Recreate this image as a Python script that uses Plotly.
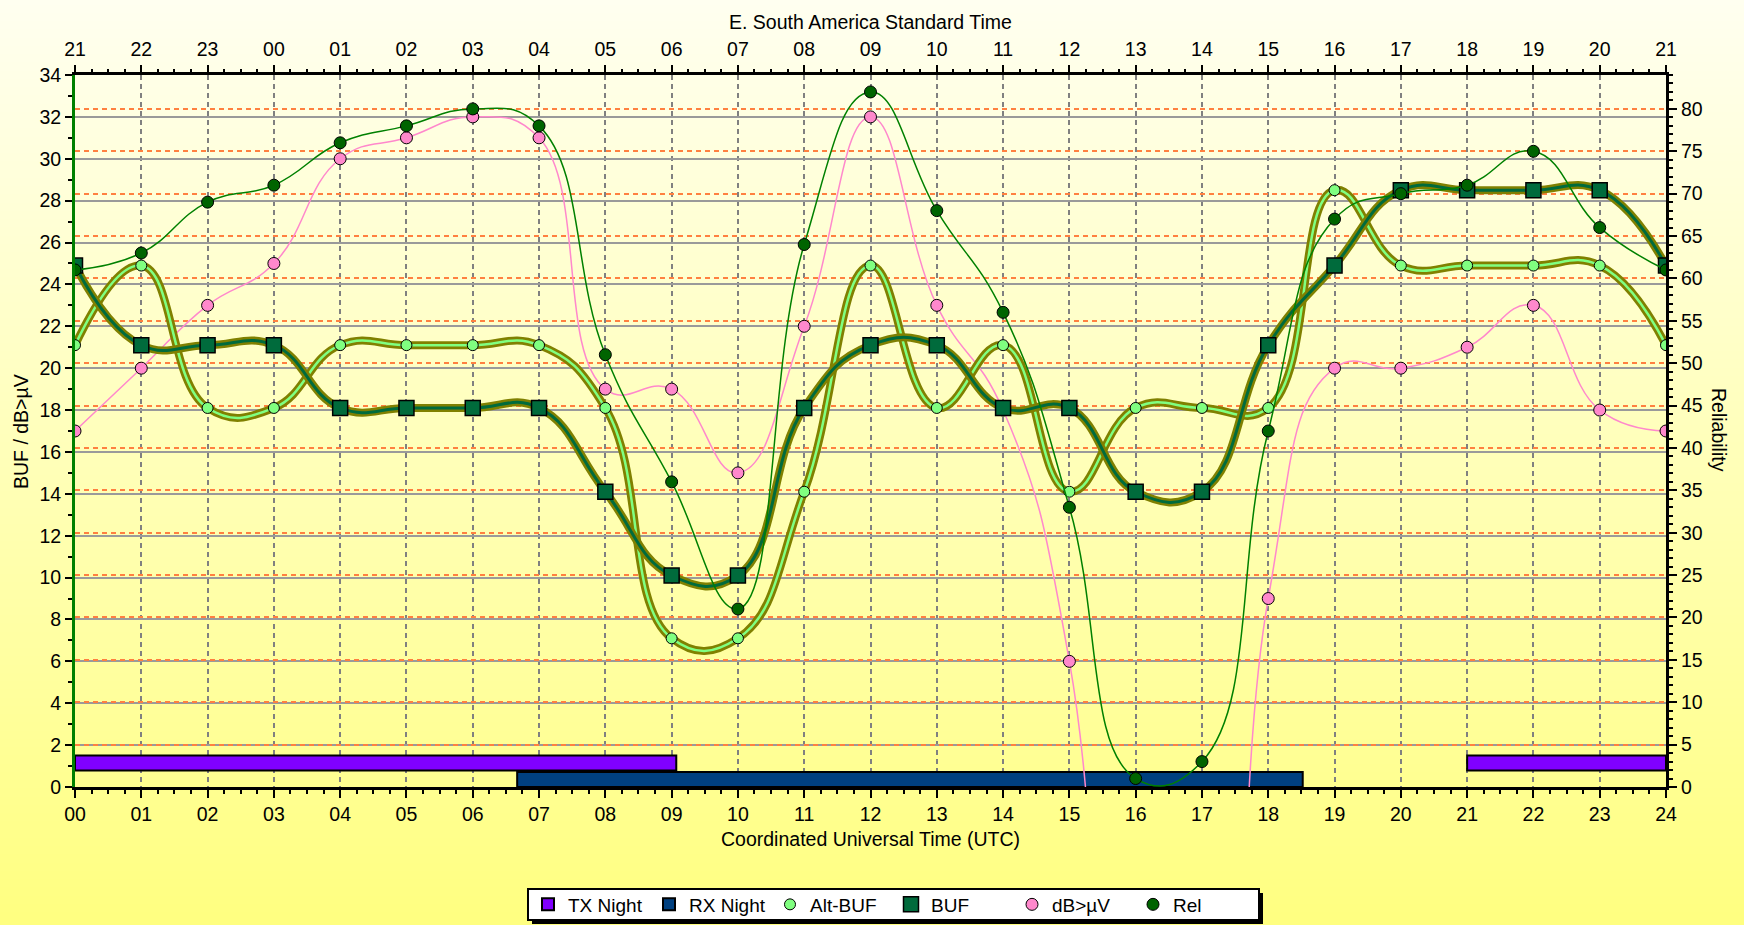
import base64
import struct
import zlib
import plotly.graph_objects as go

# ---------------- data ----------------
hours = list(range(25))
utc_labels = ["00", "01", "02", "03", "04", "05", "06", "07", "08", "09", "10", "11", "12",
              "13", "14", "15", "16", "17", "18", "19", "20", "21", "22", "23", "24"]
local_labels = ["21", "22", "23", "00", "01", "02", "03", "04", "05", "06", "07", "08", "09",
                "10", "11", "12", "13", "14", "15", "16", "17", "18", "19", "20", "21"]

buf = [24.9, 21.1, 21.1, 21.1, 18.1, 18.1, 18.1, 18.1, 14.1, 10.1, 10.1, 18.1, 21.1,
       21.1, 18.1, 18.1, 14.1, 14.1, 21.1, 24.9, 28.5, 28.5, 28.5, 28.5, 24.9]
alt_buf = [21.1, 24.9, 18.1, 18.1, 21.1, 21.1, 21.1, 21.1, 18.1, 7.1, 7.1, 14.1, 24.9,
           18.1, 21.1, 14.1, 18.1, 18.1, 18.1, 28.5, 24.9, 24.9, 24.9, 24.9, 21.1]
db_uv = [17, 20, 23, 25, 30, 31, 32, 31, 19, 19, 15, 22, 32,
         23, 18, 6, -28, -35, 9, 20, 20, 21, 23, 18, 17]
rel = [61, 63, 69, 71, 76, 78, 80, 78, 51, 36, 21, 64, 82,
       68, 56, 33, 1, 3, 42, 67, 70, 71, 75, 66, 61]

tx_night_start = [0.0, 21.0]
tx_night_end = [9.07, 24.0]
rx_night_start = [6.67]
rx_night_end = [18.52]

# ---------------- geometry / style ----------------
W, H = 1744, 925
ML, MR, MT, MB = 75, 78, 75, 138
PW, PH = W - ML - MR, H - MT - MB
FONT = "Liberation Sans, Arial, sans-serif"
FS = 19.5

OLIVE = "#808000"
BUF_GREEN = "#006B3C"
ALT_GREEN = "#80FF80"
PINK = "#FF88CC"
REL_LINE = "#008000"
REL_MARK = "#006400"


def px_x(px):
    return (px - ML) / PW


def px_y(py):
    return (H - MB - py) / PH


def gradient_png(h, top, bottom):
    rows = bytearray()
    for i in range(h):
        t = i / (h - 1)
        c = bytes(round(top[k] + (bottom[k] - top[k]) * t) for k in range(3))
        rows += b"\x00" + c * 2

    def chunk(tag, data):
        return (struct.pack(">I", len(data)) + tag + data +
                struct.pack(">I", zlib.crc32(tag + data) & 0xFFFFFFFF))

    png = (b"\x89PNG\r\n\x1a\n" +
           chunk(b"IHDR", struct.pack(">IIBBBBB", 2, h, 8, 2, 0, 0, 0)) +
           chunk(b"IDAT", zlib.compress(bytes(rows))) +
           chunk(b"IEND", b""))
    return "data:image/png;base64," + base64.b64encode(png).decode()


fig = go.Figure()

# night bars (horizontal gantt style on left axis)
fig.add_trace(go.Bar(
    orientation="h", name="TX Night",
    y=[1.15] * len(tx_night_start), base=tx_night_start,
    x=[e - s for s, e in zip(tx_night_start, tx_night_end)],
    width=0.72, marker=dict(color="#8000FF", line=dict(color="black", width=2)),
    legendrank=1, hoverinfo="skip"))
fig.add_trace(go.Bar(
    orientation="h", name="RX Night",
    y=[0.36] * len(rx_night_start), base=rx_night_start,
    x=[e - s for s, e in zip(rx_night_start, rx_night_end)],
    width=0.72, marker=dict(color="#004080", line=dict(color="black", width=2)),
    legendrank=2, hoverinfo="skip"))

spl = dict(shape="spline", smoothing=1.3)

# lines
fig.add_trace(go.Scatter(x=hours, y=db_uv, mode="lines", showlegend=False,
                         line=dict(color=PINK, width=1.5, **spl), hoverinfo="skip"))
fig.add_trace(go.Scatter(x=hours, y=alt_buf, mode="lines", showlegend=False,
                         line=dict(color=OLIVE, width=8, **spl), hoverinfo="skip"))
fig.add_trace(go.Scatter(x=hours, y=alt_buf, mode="lines", showlegend=False,
                         line=dict(color=ALT_GREEN, width=2.5, **spl), hoverinfo="skip"))
fig.add_trace(go.Scatter(x=hours, y=buf, mode="lines", showlegend=False,
                         line=dict(color=OLIVE, width=8, **spl), hoverinfo="skip"))
fig.add_trace(go.Scatter(x=hours, y=buf, mode="lines", showlegend=False,
                         line=dict(color=BUF_GREEN, width=3, **spl), hoverinfo="skip"))

# markers
fig.add_trace(go.Scatter(x=hours, y=db_uv, mode="markers", name="dB>\u00b5V", legendrank=5,
                         marker=dict(symbol="circle", size=12, color=PINK,
                                     line=dict(color="black", width=1))))
fig.add_trace(go.Scatter(x=hours, y=alt_buf, mode="markers", name="Alt-BUF", legendrank=3,
                         marker=dict(symbol="circle", size=11, color=ALT_GREEN,
                                     line=dict(color="black", width=1))))
fig.add_trace(go.Scatter(x=hours, y=buf, mode="markers", name="BUF", legendrank=4,
                         marker=dict(symbol="square", size=15, color=BUF_GREEN,
                                     line=dict(color="black", width=1.5))))

# reliability on right axis (drawn against the top local-time axis, same span)
fig.add_trace(go.Scatter(x=hours, y=rel, mode="lines", xaxis="x2", yaxis="y2", showlegend=False,
                         line=dict(color=REL_LINE, width=1.5, **spl), hoverinfo="skip"))
fig.add_trace(go.Scatter(x=hours, y=rel, mode="markers", xaxis="x2", yaxis="y2", name="Rel",
                         legendrank=6,
                         marker=dict(symbol="circle", size=12, color=REL_MARK,
                                     line=dict(color="black", width=1))))

tickfont = dict(family=FONT, size=FS, color="black")

LEG_L, LEG_R, LEG_T, LEG_B = 528, 1259, 889, 920

fig.update_layout(
    width=W, height=H,
    margin=dict(l=ML, r=MR, t=MT, b=MB, autoexpand=False),
    paper_bgcolor="#FFFFC0", plot_bgcolor="rgba(0,0,0,0)",
    font=dict(family=FONT, size=FS, color="black"),
    barmode="overlay",
    xaxis=dict(range=[0, 24], tickmode="array", tickvals=hours, ticktext=utc_labels,
               ticks="outside", ticklen=8, tickwidth=1.5, tickcolor="black",
               showline=True, linecolor="black", linewidth=3,
               showgrid=True, gridcolor="#808080", gridwidth=1.5, griddash="5px,4px",
               zeroline=False, tickfont=tickfont,
               minor=dict(dtick=0.25, tick0=0, ticks="outside", ticklen=4,
                          tickcolor="black", showgrid=False)),
    xaxis2=dict(range=[0, 24], overlaying="x", side="top", anchor="y2",
                tickmode="array", tickvals=hours, ticktext=local_labels,
                ticks="outside", ticklen=7, tickwidth=1.5, tickcolor="black",
                ticklabelstandoff=1,
                showline=True, linecolor="black", linewidth=3, showgrid=False,
                zeroline=False, tickfont=tickfont,
                minor=dict(dtick=0.25, tick0=0, ticks="outside", ticklen=3,
                           tickcolor="black", showgrid=False)),
    yaxis=dict(range=[0, 34], tick0=0, dtick=2, ticks="outside", ticklen=7,
               tickwidth=1.5, tickcolor="black",
               showline=True, linecolor="#008000", linewidth=3,
               showgrid=True, gridcolor="#9A9A9A", gridwidth=2,
               zeroline=False, tickfont=tickfont,
               minor=dict(dtick=1, tick0=0, ticks="outside", ticklen=4,
                          tickcolor="black", showgrid=False)),
    yaxis2=dict(range=[0, 84], tick0=0, dtick=5, overlaying="y", side="right", anchor="x2",
                ticks="outside", ticklen=8, tickwidth=1.5, tickcolor="black",
                showline=True, linecolor="black", linewidth=3,
                showgrid=True, gridcolor="#FF8040", gridwidth=2, griddash="5px,4px",
                zeroline=False, tickfont=tickfont,
                minor=dict(dtick=1, tick0=0, ticks="outside", ticklen=4,
                           tickcolor="black", showgrid=False)),
    legend=dict(orientation="h", x=px_x(LEG_L), y=px_y((LEG_T + LEG_B) / 2),
                xanchor="left", yanchor="middle",
                bgcolor="rgba(0,0,0,0)", borderwidth=0,
                font=dict(family=FONT, size=19, color="black"),
                entrywidth=76, entrywidthmode="pixels", traceorder="normal"),
    showlegend=True,
    images=[dict(source=gradient_png(H, (255, 255, 240), (255, 255, 128)),
                 xref="paper", yref="paper", x=px_x(0), y=px_y(0),
                 sizex=W / PW, sizey=H / PH, xanchor="left", yanchor="top",
                 sizing="stretch", layer="below")],
    shapes=[
        dict(type="rect", xref="paper", yref="paper",
             x0=px_x(LEG_L + 4), x1=px_x(LEG_R + 4), y0=px_y(LEG_T + 4), y1=px_y(LEG_B + 4),
             fillcolor="black", line=dict(width=0), layer="above"),
        dict(type="rect", xref="paper", yref="paper",
             x0=px_x(LEG_L), x1=px_x(LEG_R), y0=px_y(LEG_T), y1=px_y(LEG_B),
             fillcolor="white", line=dict(color="black", width=2), layer="above"),
    ],
    annotations=[
        dict(text="E. South America Standard Time", xref="paper", yref="paper",
             x=px_x(870), y=px_y(22), xanchor="center", yanchor="middle",
             showarrow=False, font=dict(family=FONT, size=FS, color="black")),
        dict(text="Coordinated Universal Time (UTC)", xref="paper", yref="paper",
             x=px_x(870), y=px_y(839), xanchor="center", yanchor="middle",
             showarrow=False, font=dict(family=FONT, size=FS, color="black")),
        dict(text="BUF / dB>\u00b5V", xref="paper", yref="paper",
             x=px_x(21), y=px_y(431), xanchor="center", yanchor="middle", textangle=-90,
             showarrow=False, font=dict(family=FONT, size=FS, color="black")),
        dict(text="Reliability", xref="paper", yref="paper",
             x=px_x(1719), y=px_y(430), xanchor="center", yanchor="middle", textangle=90,
             showarrow=False, font=dict(family=FONT, size=FS, color="black")),
    ],
)

fig.write_html("out.html",
               config={"displayModeBar": False},
               post_script="document.body.style.margin='0';"
                           "document.body.style.overflow='hidden';")
